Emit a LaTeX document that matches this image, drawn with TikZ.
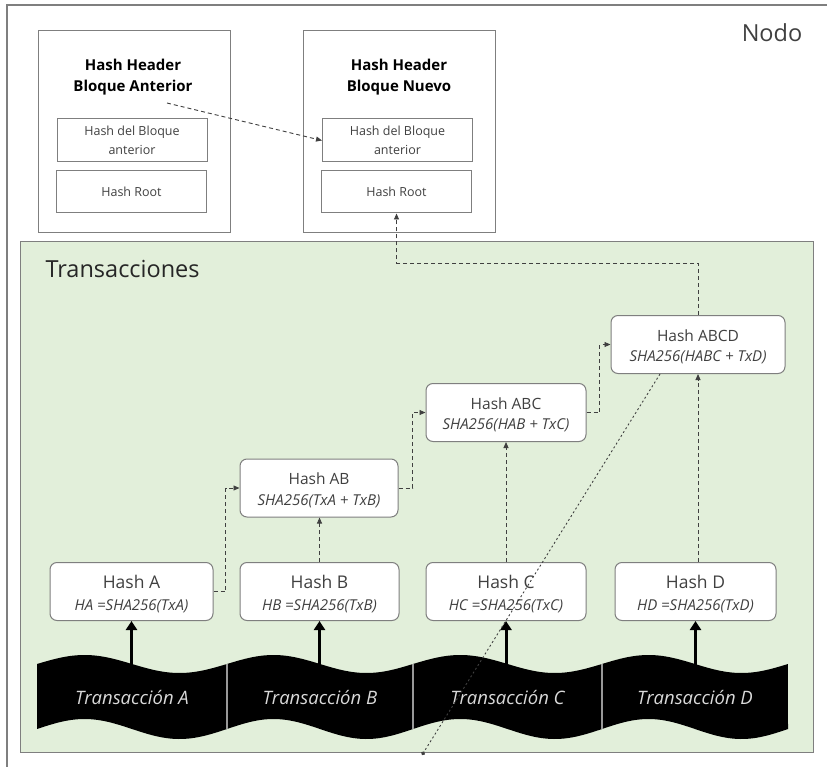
\documentclass[tikz,border=0pt]{standalone}
\usepackage{fontspec}
\setmainfont{Open Sans}
\usetikzlibrary{arrows.meta,calc}

\definecolor{panel}{HTML}{E2EFDA}
\definecolor{frame}{HTML}{7F7F7F}
\definecolor{ink}{HTML}{404040}
\definecolor{tapetext}{HTML}{D9D9D9}

\tikzset{
  box/.style={draw=frame, line width=1pt, fill=white, inner sep=0pt, align=center, text=ink},
  plainbox/.style={box, minimum width=150pt, minimum height=43pt,
                   font=\fontsize{12.5}{18.5}\selectfont},
  hashbox/.style={box, rounded corners=7pt, minimum height=58pt,
                  font=\fontsize{15}{22}\selectfont},
  tophashbox/.style={hashbox, font=\fontsize{15}{20.5}\selectfont},
  headtitle/.style={align=center, font=\fontsize{15}{21}\selectfont\bfseries, text=black},
  tapelabel/.style={text=tapetext, font=\fontsize{18.5}{22}\selectfont\itshape},
  link/.style={draw=ink, line width=0.9pt, dash pattern=on 4pt off 3pt,
               -{Triangle[length=6pt,width=5pt]}},
  feed/.style={draw=black, line width=3pt, -{Triangle[length=9pt,width=11pt]}},
  stray/.style={draw=ink, line width=0.9pt, dash pattern=on 2pt off 2.5pt,
                -{Circle[length=4pt]}},
}

% leaf hash: title over its formula
\newcommand{\leafhash}[2]{{\fontsize{17.5}{22}\selectfont\rule{0pt}{18.5pt}#1}\\{\itshape #2}}
% inner hash: title over its formula
\newcommand{\innerhash}[2]{{\fontsize{15.5}{20.5}\selectfont\rule{0pt}{16.5pt}#1}\\{\itshape #2}}

\begin{document}
\begin{tikzpicture}[x=1pt,y=-1pt]
  \clip (0,0) rectangle (827,767);
  \fill[white] (0,0) rectangle (827,767);

  % outer node frame
  \draw[frame, line width=1.2pt] (7,5) rectangle (900,900);
  \node[font=\fontsize{23.5}{27}\selectfont, text=ink] (nodo) at (772,33) {Nodo};

  % block headers
  \node[box, minimum width=192pt, minimum height=202pt] (hprev) at (134,132) {};
  \node[box, minimum width=192pt, minimum height=202pt] (hnew) at (399,132) {};
  \node[headtitle] (tprev) at (133,77) {Hash Header\\Bloque Anterior};
  \node[headtitle] (tnew) at (399,77) {Hash Header\\Bloque Nuevo};
  \node[plainbox] (pprev) at (132,140.5) {Hash del Bloque\\anterior};
  \node[plainbox, minimum height=42pt] (rprev) at (131.5,192) {Hash Root};
  \node[plainbox] (pnew) at (397.5,140.5) {Hash del Bloque\\anterior};
  \node[plainbox, minimum height=42pt] (rnew) at (396.5,192) {Hash Root};

  % transactions panel
  \draw[frame, line width=1pt, fill=panel] (20,242) rectangle (813,752);
  \node[anchor=west, font=\fontsize{23.5}{27}\selectfont, text=black!85] (trans) at (42,269) {Transacciones};

  % hash boxes
  \node[hashbox, minimum width=163pt] (ha) at (131.5,591.5) {\leafhash{Hash A}{HA =SHA256(TxA)}};
  \node[hashbox, minimum width=159pt] (hb) at (319.5,591.5) {\leafhash{Hash B}{HB =SHA256(TxB)}};
  \node[hashbox, minimum width=160pt] (hc) at (506,591.5) {\leafhash{Hash C}{HC =SHA256(TxC)}};
  \node[hashbox, minimum width=161pt] (hd) at (695.5,591.5) {\leafhash{Hash D}{HD =SHA256(TxD)}};
  \node[tophashbox, minimum width=158pt] (hab) at (319,488) {\innerhash{Hash AB}{SHA256(TxA + TxB)}};
  \node[tophashbox, minimum width=160pt] (habc) at (506,412.5) {\innerhash{Hash ABC}{SHA256(HAB + TxC)}};
  \node[tophashbox, minimum width=174pt] (habcd) at (698,344.5) {\innerhash{Hash ABCD}{SHA256(HABC + TxD)}};

  % wavy transaction tapes
  \foreach \n/\xa/\xb in {A/37/227, B/227/413, C/413/602, D/602/788} {
    \fill[black]
      plot[domain=0:1, samples=60, variable=\t] ({\xa+\t*(\xb-\xa)},{664-9*sin(360*\t)})
      -- plot[domain=1:0, samples=60, variable=\t] ({\xa+\t*(\xb-\xa)},{729-10*sin(360*\t)})
      -- cycle;
    \node[tapelabel] (tx\n) at ({(\xa+\xb)/2},697) {Transacción \n};
  }
  \foreach \xs in {227,413,602}
    \draw[frame!80, line width=1.5pt] (\xs,664) -- (\xs,729);

  % hashing of each transaction
  \draw[feed] ($(ha.south)+(0,43)$) -- (ha.south);
  \draw[feed] ($(hb.south)+(0,45)$) -- (hb.south);
  \draw[feed] ($(hc.south)+(0,43)$) -- (hc.south);
  \draw[feed] ($(hd.south)+(0,45)$) -- (hd.south);

  % merkle chain
  \draw[link] (ha.east) -- ++(12,0) |- (hab.west);
  \draw[link] (hb.north) -- (hb.north |- hab.south);
  \draw[link] (hab.east) -- ++(14,0) |- (habc.west);
  \draw[link] (hc.north) -- (hc.north |- habc.south);
  \draw[link] (habc.east) -- ++(13,0) |- (habcd.west);
  \draw[link] (habcd.south |- hd.north) -- (habcd.south);
  \draw[link] (habcd.north) -- ++(0,-52) -| (rnew.south);

  % link to the previous block
  \coordinate (pstart) at (167,103);
  \draw[link] (pstart) -- (pnew.west);

  % stray dotted line
  \coordinate (loose) at (422,755);
  \draw[stray] ($(habcd.south)+(-38,0)$) -- (loose);
\end{tikzpicture}
\end{document}
